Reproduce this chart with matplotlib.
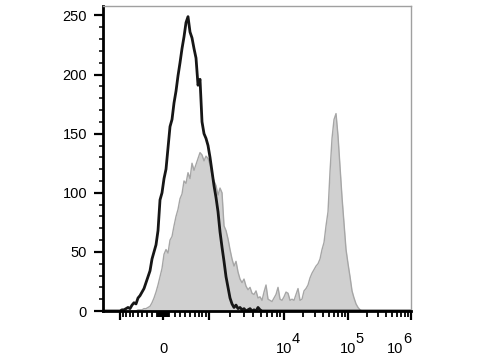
import numpy as np
import matplotlib
matplotlib.use("Agg")
import matplotlib.pyplot as plt
from matplotlib.transforms import blended_transform_factory, offset_copy

plt.rcParams['font.family'] = ['Liberation Sans', 'DejaVu Sans']

# biexponential-like display: intensity anchors and their display channel
anchor_vals = [-1e4, -1e3, 0, 1e3, 1e4, 1e5, 1e6, 1e7]
anchor_pos = [-118, -43, 0, 46, 121, 185, 248, 311]
s_anchor = np.arcsinh(np.array(anchor_vals) / 600.0)


def forward(x):
    # intensity -> display channel
    return np.interp(np.arcsinh(np.asarray(x, float) / 600.0), s_anchor, anchor_pos)


# histogram bins (display channels, 2 units wide)
bin_start, bin_stop, bin_w = -60, 248, 2

# unstained control (black line)
control = ([0, 0, 0, 0, 0, 0, 0, 0, 0,
            1, 1, 2, 3, 2, 5, 7, 6, 11, 13,
            16, 19, 24, 29, 34, 44, 50, 56, 68, 94,
            100, 112, 120, 138, 156, 162, 176, 186, 199, 210,
            222, 232, 244, 249, 236, 231, 222, 214, 191, 196,
            160, 150, 146, 140, 130, 118, 106, 96, 84, 67,
            54, 42, 29, 20, 11, 6, 3, 5, 2, 3,
            1, 2, 0, 1, 2, 0, 1, 0, 3, 1]
           + [0] * 75)

# stained sample (gray filled)
stained = ([0] * 17
           + [1, 1, 1, 2, 2, 3, 4, 7, 11, 16,
              22, 29, 36, 48, 52, 49, 60, 63, 72, 80,
              86, 95, 99, 110, 108, 117, 112, 125, 119, 124,
              129, 134, 132, 127, 131, 129, 124, 115, 110, 106,
              98, 104, 100, 72, 68, 61, 52, 44, 38, 42,
              33, 27, 24, 27, 21, 18, 20, 15, 14, 17,
              11, 12, 9, 16, 22, 10, 9, 8, 11, 14,
              20, 10, 9, 12, 16, 15, 9, 10, 9, 14,
              19, 9, 10, 17, 19, 22, 28, 32, 35, 38,
              40, 44, 52, 58, 72, 84, 118, 146, 162, 167,
              148, 122, 96, 74, 52, 40, 29, 17, 11, 6,
              3, 1]
           + [0] * 25)

major_x = [-1000, 0, 1000, 1e4, 1e5, 1e6]
label_vals = [0, 1e4, 1e5, 1e6]
label_base = ['0', '10', '10', '10']
label_exp = ['', '4', '5', '6']
label_dx = [0, 0, 0, -11.5]   # points
y_major = [0, 50, 100, 150, 200, 250]

t_centers = np.arange(bin_start + bin_w / 2, bin_stop, bin_w)

fig = plt.figure(figsize=(4.8, 3.6), dpi=100)
ax = fig.add_axes([0.2146, 0.1361, 0.6417, 0.8472])

ax.fill_between(t_centers, stained, color='#d0d0d0', lw=0)
ax.plot(t_centers, stained, color='#a6a6a6', lw=1.0)
ax.plot(t_centers, control, color='#161616', lw=2.0)

ax.set_xlim(bin_start, bin_stop)
ax.set_ylim(0, 258)

# minor ticks
minor_x = []
for dec in [10, 100]:
    for k in range(1, 10):
        minor_x += [k * dec, -k * dec]
for dec in [1e3, 1e4, 1e5]:
    for k in range(2, 10):
        minor_x.append(k * dec)

ax.set_xticks(forward(major_x))
ax.set_xticklabels([])
ax.set_xticks(forward(sorted(minor_x)), minor=True)
ax.set_yticks(y_major)
ax.set_yticks(np.arange(0, 251, 10), minor=True)

ax.tick_params(axis='both', which='major', length=6.5, width=1.6,
               labelsize=10.5, color='black')
ax.tick_params(axis='both', which='minor', length=3, width=1.1,
               color='black')
ax.tick_params(axis='x', which='minor', length=4.5, width=1.3,
               bottom=True)
ax.tick_params(axis='y', which='major', pad=5)

# x labels: 0, 10^4, 10^5, 10^6 with full-size exponents
trans = blended_transform_factory(ax.transData, ax.transAxes)
for val, base, ex, dx in zip(label_vals, label_base, label_exp, label_dx):
    xpos = forward(val)
    ax.text(xpos, 0, base, fontsize=10.5, ha='center', va='baseline',
            transform=offset_copy(trans, fig=fig, x=dx, y=-30, units='points'))
    if ex:
        ax.text(xpos, 0, ex, fontsize=10.5, ha='left', va='baseline',
                transform=offset_copy(trans, fig=fig, x=dx + 5.6, y=-23,
                                      units='points'))

for side in ['left', 'bottom']:
    ax.spines[side].set_linewidth(2.0)
    ax.spines[side].set_color('black')
for side in ['top', 'right']:
    ax.spines[side].set_linewidth(1.0)
    ax.spines[side].set_color('#a0a0a0')

fig.savefig('out.png', dpi=100)
